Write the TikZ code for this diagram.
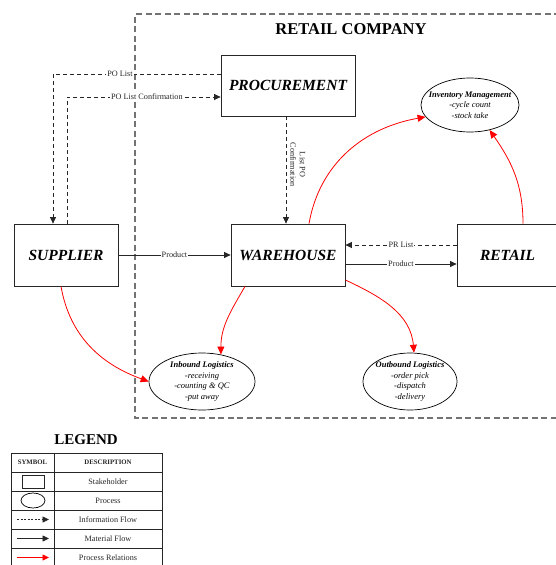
\documentclass[tikz,border=0pt]{standalone}
\usepackage{fontspec}
\setmainfont{Liberation Serif}
\usetikzlibrary{arrows.meta,shapes.geometric,calc}

\begin{document}
\begin{tikzpicture}[x=1pt,y=1pt,
  stakebox/.style={draw=black!85,line width=0.8pt,inner sep=0pt,
    font=\fontsize{15.5}{18}\selectfont\bfseries\itshape},
  procshape/.style={ellipse,draw=black,line width=0.7pt,inner sep=0pt},
  proctext/.style={align=center,inner sep=0pt,font=\fontsize{8.5}{10.5}\selectfont\itshape},
  infoflow/.style={draw=black!85,line width=0.8pt,dash pattern=on 4pt off 3pt,
    -{Triangle[length=6.5pt,width=6pt]}},
  matflow/.style={draw=black!85,line width=0.8pt,-{Triangle[length=6.5pt,width=6pt]}},
  relflow/.style={draw=red,line width=0.8pt,-{Triangle[length=8pt,width=7pt]}},
  flowlabel/.style={fill=white,inner sep=1pt,text=black!85,font=\fontsize{8.2}{9.5}\selectfont},
  legtext/.style={text=black!85,font=\fontsize{8.2}{9.5}\selectfont},
  leghead/.style={text=black!85,font=\fontsize{6.8}{8}\selectfont\bfseries}]

\useasboundingbox (0,0) rectangle (555,-565);

% company boundary
\draw[black!55,line width=1.2pt,dash pattern=on 6pt off 3.5pt]
  (560,-14) -- (135,-14) -- (135,-418) -- (560,-418);
\node[font=\fontsize{16.5}{19}\selectfont\bfseries] (title) at (351,-29) {RETAIL COMPANY};

% stakeholders
\node[stakebox,minimum width=134pt,minimum height=61pt] (proc) at (288,-85.5) {PROCUREMENT};
\node[stakebox,minimum width=104pt,minimum height=62pt] (sup) at (66,-255) {SUPPLIER};
\node[stakebox,minimum width=114pt,minimum height=62pt] (wh) at (288,-255) {WAREHOUSE};
\node[stakebox,minimum width=100pt,minimum height=62pt,text width=100pt,align=left] (ret) at (507,-255) {\hspace*{23pt}RETAIL};

% processes
\node[procshape,minimum width=98pt,minimum height=54pt] (inv) at (470,-105) {};
\node[proctext] (invtext) at (inv.center) {{\bfseries Inventory Management}\\-cycle count\\-stock take};
\node[procshape,minimum width=106pt,minimum height=57pt] (inb) at (202,-381.5) {};
\node[proctext] (inbtext) at (inb.center) {{\bfseries Inbound Logistics}\\-receiving\\-counting \& QC\\-put away};
\node[procshape,minimum width=94pt,minimum height=57pt] (outb) at (410,-381.5) {};
\node[proctext] (outbtext) at (outb.center) {{\bfseries Outbound Logistics}\\-order pick\\-dispatch\\-delivery};

% information flows
\draw[infoflow] ([yshift=11.5pt]proc.west) -| node[flowlabel,pos=0.3]{PO List} ([xshift=-13pt]sup.north);
\draw[infoflow] ([xshift=1pt]sup.north) |- node[flowlabel,pos=0.76]{PO List Confirmation} ([yshift=-11.5pt]proc.west);
\draw[infoflow] ([xshift=-2pt]proc.south) -- node[rotate=-90,anchor=south,align=center,inner sep=4pt,
  text=black!85,font=\fontsize{8.2}{9.5}\selectfont,pos=0.45]{List PO\\Confirmation} ([xshift=-2pt]wh.north);
\draw[infoflow] ([yshift=10pt]ret.west) -- node[flowlabel]{PR List} ([yshift=10pt]wh.east);

% material flows
\draw[matflow] (sup.east) -- node[flowlabel]{Product} (wh.west);
\draw[matflow] ([yshift=-9pt]wh.east) -- node[flowlabel]{Product} ([yshift=-9pt]ret.west);

% process relations
\draw[relflow] ([xshift=21pt]wh.north) to[out=80,in=190] (inv.195);
\draw[relflow] ([xshift=16pt]ret.north) to[out=90,in=305] (inv.-52);
\draw[relflow] ([xshift=-5pt]sup.south) to[out=-80,in=160] (inb.west);
\draw[relflow] ([xshift=-43pt]wh.south) to[out=-120,in=90] (inb.55);
\draw[relflow] ([yshift=-25pt]wh.east) to[out=-25,in=95] (outb.82);

% legend
\node[font=\fontsize{15}{17}\selectfont\bfseries] (legend) at (86,-440) {LEGEND};
\draw[black!85,line width=0.6pt] (11,-453) rectangle (162,-570);
\foreach \yy in {472,491,510,529,548} \draw[black!85,line width=0.6pt] (11,-\yy) -- (162,-\yy);
\draw[black!85,line width=0.6pt] (54,-453) -- (54,-570);
\node[leghead] (hsym) at (32.5,-462.5) {SYMBOL};
\node[leghead] (hdesc) at (108,-462.5) {DESCRIPTION};
\node[legtext] (d1) at (108,-481.5) {Stakeholder};
\node[legtext] (d2) at (108,-500.5) {Process};
\node[legtext] (d3) at (108,-519.5) {Information Flow};
\node[legtext] (d4) at (108,-538.5) {Material Flow};
\node[legtext] (d5) at (108,-557.5) {Process Relations};
\node[draw=black!85,line width=0.7pt,minimum width=22pt,minimum height=13pt,inner sep=0pt] (symbox) at (33,-481.5) {};
\node[ellipse,draw=black,line width=0.7pt,minimum width=24pt,minimum height=15pt,inner sep=0pt] (symell) at (33,-500.5) {};
\coordinate (i1) at (17,-519.5); \coordinate (i2) at (49,-519.5);
\coordinate (m1) at (17,-538.5); \coordinate (m2) at (49,-538.5);
\coordinate (r1) at (17,-557.5); \coordinate (r2) at (49,-557.5);
\draw[infoflow,dash pattern=on 2pt off 1.5pt] (i1) -- (i2);
\draw[matflow] (m1) -- (m2);
\draw[relflow,-{Triangle[length=6.5pt,width=6pt]}] (r1) -- (r2);
\end{tikzpicture}
\end{document}
